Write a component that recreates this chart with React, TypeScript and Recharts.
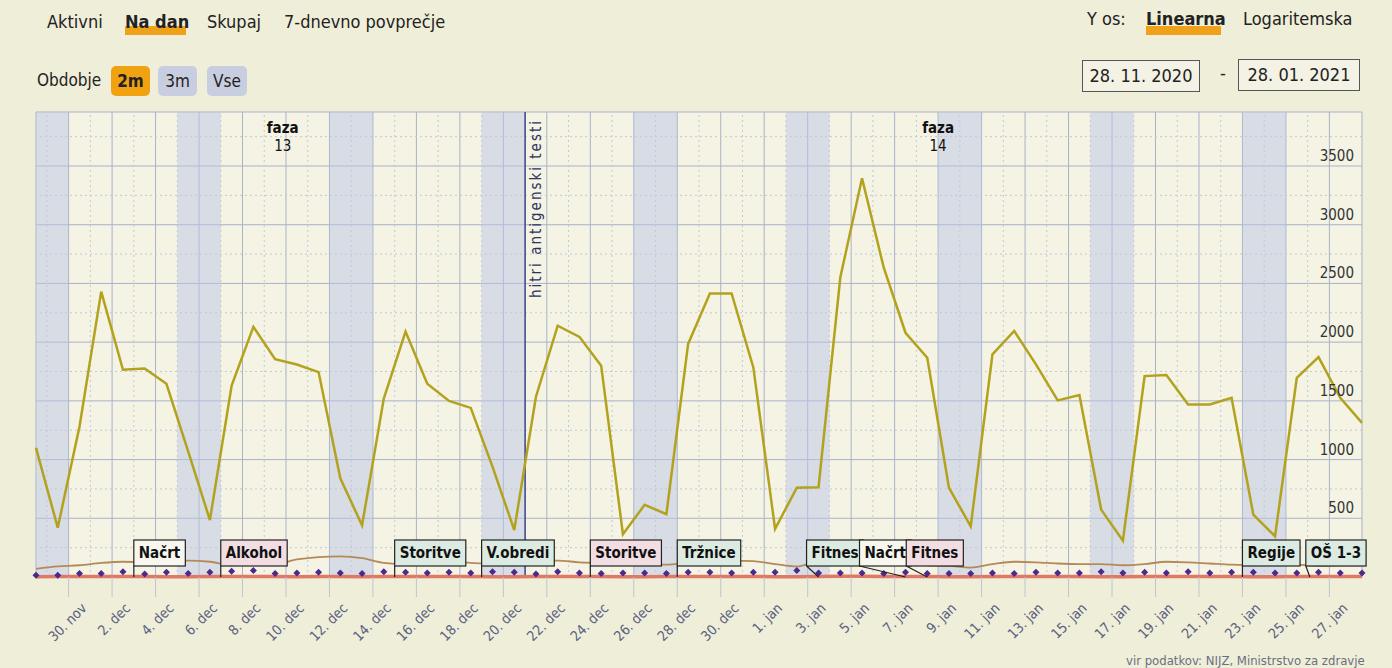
import React from 'react'
import {
  LineChart,
  Line,
  XAxis,
  YAxis,
  CartesianGrid,
  ReferenceArea,
  ReferenceLine,
  ReferenceDot,
} from 'recharts'

// dnevno potrjeni primeri, 28. 11. 2020 – 28. 01. 2021
const primeri = [
  1100, 420, 1280, 2430, 1765, 1775, 1645, 1070, 485, 1630, 2130, 1855, 1810, 1745, 840, 440,
  1520, 2090, 1645, 1500, 1440, 940, 400, 1535, 2140, 2045, 1800, 365, 615, 535, 1985, 2415,
  2415, 1785, 410, 760, 765, 2550, 3396, 2634, 2080, 1867, 759, 432, 1896, 2095, 1811, 1504,
  1549, 574, 310, 1711, 1720, 1470, 1470, 1526, 532, 347, 1697, 1873, 1526, 1313,
]
const hospitalizirani = [
  70, 90, 100, 120, 130, 125, 120, 140, 130, 100, 110, 110, 150, 170, 175, 160, 120, 110, 125,
  130, 120, 110, 100, 130, 140, 125, 120, 115, 110, 105, 120, 130, 140, 135, 110, 90, 130, 120,
  115, 110, 110, 100, 95, 80, 110, 130, 125, 115, 110, 110, 100, 110, 130, 125, 115, 105, 100,
  110, 105, 95, 100, 100,
]
const umrli = [
  15, 15, 30, 30, 45, 25, 40, 30, 40, 50, 55, 30, 35, 40, 35, 30, 45, 40, 35, 40, 35, 45, 40,
  25, 45, 35, 30, 35, 35, 30, 40, 40, 35, 40, 40, 55, 35, 35, 35, 30, 40, 30, 30, 30, 35, 30,
  40, 35, 35, 45, 35, 40, 35, 45, 35, 40, 40, 35, 35, 40, 35, 35,
]
const intenzivna = [
  3, 4, 4, 5, 5, 4, 3, 3, 5, 5, 4, 4, 3, 4, 4, 3, 5, 5, 4, 4, 4, 3, 3, 5, 5, 5, 4, 3, 3, 4, 5,
  5, 5, 4, 3, 3, 5, 6, 6, 5, 5, 4, 3, 3, 5, 5, 5, 4, 4, 3, 3, 5, 5, 4, 4, 4, 3, 3, 5, 5, 4, 4,
]

const oznakeX = [
  '30. nov', '2. dec', '4. dec', '6. dec', '8. dec', '10. dec', '12. dec', '14. dec', '16. dec',
  '18. dec', '20. dec', '22. dec', '24. dec', '26. dec', '28. dec', '30. dec', '1. jan', '3. jan',
  '5. jan', '7. jan', '9. jan', '11. jan', '13. jan', '15. jan', '17. jan', '19. jan', '21. jan',
  '23. jan', '25. jan', '27. jan',
]
const yTicks = [500, 1000, 1500, 2000, 2500, 3000, 3500]

// vikendi (začetek sobote, v dnevih od 28. 11.)
const vikendi = [-0.5, 6.5, 13.5, 20.5, 27.5, 34.5, 41.5, 48.5, 55.5]

// ukrepi
const ukrepi = ['Načrt', 'Alkohol', 'Storitve', 'V.obredi', 'Storitve', 'Tržnice', 'Fitnes', 'Načrt', 'Fitnes', 'Regije', 'OŠ 1-3']
const ukrepiDan = [4.5, 8.5, 16.5, 20.5, 25.5, 29.5, 36, 40, 41, 55.5, 58.6]
const ukrepiVrsta = ['nacrt', 'strozje', 'blazje', 'blazje', 'strozje', 'blazje', 'blazje', 'nacrt', 'strozje', 'blazje', 'blazje']

const faze = ['13', '14']
const fazeDan = [11.35, 41.5]
const antigenskiDan = 22.5

// postavitev škatel (zamik v px, da se ne prekrivajo)
const ukrepiZamik = [0, 0, 0, 0, 0, 0, -12, -46, -21, 0, -4]
const barveUkrepov: Record<string, string> = {
  nacrt: '#f7f7ef',
  strozje: '#f2dde3',
  blazje: '#dcebe2',
}

const data = primeri.map((v, i) => ({
  dan: i,
  primeri: v,
  hosp: hospitalizirani[i],
  umrli: umrli[i],
  int: intenzivna[i],
}))
const xTicks = oznakeX.map((_, k) => 1.5 + 2 * k)
const manjseX = oznakeX.map((_, k) => 0.5 + 2 * k)
const manjseY = [250, 750, 1250, 1750, 2250, 2750, 3250, 3750]

const COND = "'DejaVu Sans Condensed', 'DejaVu Sans', sans-serif"

let ctx: CanvasRenderingContext2D | null = null
function sirina(t: string, font: string) {
  if (!ctx) ctx = document.createElement('canvas').getContext('2d')
  if (!ctx) return t.length * 8
  ctx.font = font
  return ctx.measureText(t).width
}

function XTick({ x, y, payload }: any) {
  const k = Math.round((payload.value - 1.5) / 2)
  const ax = x + 19
  const ay = y + 10
  return (
    <text
      x={ax}
      y={ay}
      transform={`rotate(-45, ${ax}, ${ay})`}
      textAnchor="end"
      fontSize={14}
      fontFamily={COND}
      fill="#5a6180"
    >
      {oznakeX[k]}
    </text>
  )
}

function YTick({ x, y, payload }: any) {
  return (
    <text x={x - 6} y={y - 5} textAnchor="end" fontSize={15} fontFamily={COND} fill="#333">
      {payload.value}
    </text>
  )
}

function Okvir({ cx, cy, i }: any) {
  const t = ukrepi[i]
  const w = sirina(t, `bold 15px ${COND}`) + 10
  const left = cx + ukrepiZamik[i]
  const bottom = cy - 11
  const top = bottom - 26
  return (
    <g>
      <line x1={left} y1={bottom} x2={cx} y2={cy} stroke="#222" strokeWidth={1.2} />
      <rect x={left} y={top} width={w} height={26} fill={barveUkrepov[ukrepiVrsta[i]]} stroke="#222" strokeWidth={1.2} />
      <text x={left + w / 2} y={top + 18} textAnchor="middle" fontSize={15} fontWeight="bold" fontFamily={COND} fill="#111">
        {t}
      </text>
    </g>
  )
}

function Faza({ cx, cy, i }: any) {
  return (
    <g fontFamily={COND} fill="#111" textAnchor="middle">
      <text x={cx} y={cy + 21} fontSize={15} fontWeight="bold">faza</text>
      <text x={cx} y={cy + 39} fontSize={15}>{faze[i]}</text>
    </g>
  )
}

function Romb({ cx, cy }: any) {
  if (cx == null || cy == null) return null
  return <path d={`M${cx},${cy - 3.5} L${cx + 3.5},${cy} L${cx},${cy + 3.5} L${cx - 3.5},${cy} Z`} fill="#4b2a8c" />
}

function AntigenLabel({ viewBox }: any) {
  const ax = viewBox.x + 16
  const ay = viewBox.y + 7
  return (
    <text
      x={ax}
      y={ay}
      transform={`rotate(-90, ${ax}, ${ay})`}
      textAnchor="end"
      fontSize={15}
      fontFamily={COND}
      fill="#2c3560"
      letterSpacing={2}
    >
      hitri antigenski testi
    </text>
  )
}

const hdr: React.CSSProperties = {
  position: 'absolute',
  fontFamily: COND,
  fontSize: 18,
  color: '#222',
  whiteSpace: 'nowrap',
}

export default function App() {
  return (
    <div style={{ position: 'absolute', left: 0, top: 0, width: 1392, height: 668, background: '#efeed9', overflow: 'hidden' }}>
      <div style={{ position: 'absolute', left: 0, top: 0 }}>
        <LineChart width={1392} height={668} data={data} margin={{ top: 112, right: 30, bottom: 0, left: 36 }}>
          <CartesianGrid fill="#f4f3e4" stroke="#aab2c8" strokeWidth={1} />
          {vikendi.map((v, k) => (
            <ReferenceArea key={k} x1={Math.max(0, v)} x2={v + 2} fill="#b9c5e6" fillOpacity={0.5} stroke="none" ifOverflow="hidden" />
          ))}
          {manjseX.map((v) => (
            <ReferenceLine key={'mx' + v} x={v} stroke="#c3c8d6" strokeDasharray="2 3" />
          ))}
          {manjseY.map((v) => (
            <ReferenceLine key={'my' + v} y={v} stroke="#c3c8d6" strokeDasharray="2 3" />
          ))}
          <XAxis
            dataKey="dan"
            type="number"
            domain={[0, 61]}
            ticks={xTicks}
            interval={0}
            height={91}
            tick={<XTick />}
            tickSize={20}
            tickLine={{ stroke: '#c0c4d0' }}
            axisLine={false}
          />
          <YAxis
            orientation="right"
            mirror
            width={30}
            domain={[0, 3960]}
            ticks={yTicks}
            tick={<YTick />}
            tickSize={0}
            axisLine={false}
            tickLine={false}
          />
          <ReferenceLine x={antigenskiDan} stroke="#3a4684" strokeWidth={1.5} label={<AntigenLabel />} />
          {fazeDan.map((d, i) => (
            <ReferenceDot key={'f' + i} x={d} y={3960} r={0} shape={(p: any) => <Faza {...p} i={i} />} ifOverflow="visible" />
          ))}
          <Line dataKey="hosp" type="monotone" stroke="#b48a58" strokeWidth={1.8} dot={false} isAnimationActive={false} />
          <Line dataKey="int" type="linear" stroke="#e07868" strokeWidth={3.5} dot={false} isAnimationActive={false} />
          <Line dataKey="umrli" type="linear" stroke="none" dot={<Romb />} isAnimationActive={false} />
          {ukrepiDan.map((d, i) => (
            <ReferenceDot key={'u' + i} x={d} y={0} r={0} shape={(p: any) => <Okvir {...p} i={i} />} ifOverflow="visible" />
          ))}
          <Line dataKey="primeri" type="linear" stroke="#b3a21d" strokeWidth={2.5} dot={false} isAnimationActive={false} />
        </LineChart>
      </div>

      {/* glava */}
      <div style={{ ...hdr, left: 47, top: 11 }}>Aktivni</div>
      <div style={{ ...hdr, left: 125, top: 26, width: 61, height: 9, background: '#f0a11a' }} />
      <div style={{ ...hdr, left: 125, top: 11, fontWeight: 'bold' }}>Na dan</div>
      <div style={{ ...hdr, left: 207, top: 11 }}>Skupaj</div>
      <div style={{ ...hdr, left: 284, top: 11 }}>7-dnevno povprečje</div>

      <div style={{ ...hdr, left: 37, top: 70, fontSize: 17 }}>Obdobje</div>
      <div style={{ ...hdr, left: 111, top: 66, width: 39, height: 30, borderRadius: 5, background: '#f0a210', fontWeight: 'bold', fontSize: 17, textAlign: 'center', lineHeight: '30px' }}>2m</div>
      <div style={{ ...hdr, left: 158, top: 66, width: 39, height: 30, borderRadius: 5, background: '#c9cde0', fontSize: 17, textAlign: 'center', lineHeight: '30px' }}>3m</div>
      <div style={{ ...hdr, left: 207, top: 66, width: 40, height: 30, borderRadius: 5, background: '#c9cde0', fontSize: 17, textAlign: 'center', lineHeight: '30px' }}>Vse</div>

      <div style={{ ...hdr, left: 1087, top: 8 }}>Y os:</div>
      <div style={{ ...hdr, left: 1146, top: 26, width: 75, height: 9, background: '#f0a11a' }} />
      <div style={{ ...hdr, left: 1146, top: 8, fontWeight: 'bold' }}>Linearna</div>
      <div style={{ ...hdr, left: 1243, top: 8 }}>Logaritemska</div>

      <div style={{ ...hdr, left: 1082, top: 60, width: 116, height: 30, border: '1px solid #555', background: '#f3f2e4', textAlign: 'center', lineHeight: '30px' }}>28. 11. 2020</div>
      <div style={{ ...hdr, left: 1220, top: 62 }}>-</div>
      <div style={{ ...hdr, left: 1238, top: 59, width: 120, height: 30, border: '1px solid #555', background: '#f3f2e4', textAlign: 'center', lineHeight: '30px' }}>28. 01. 2021</div>

      <div style={{ ...hdr, left: 1126, top: 653, fontSize: 13, color: '#6a6f80' }}>vir podatkov: NIJZ, Ministrstvo za zdravje</div>
    </div>
  )
}
